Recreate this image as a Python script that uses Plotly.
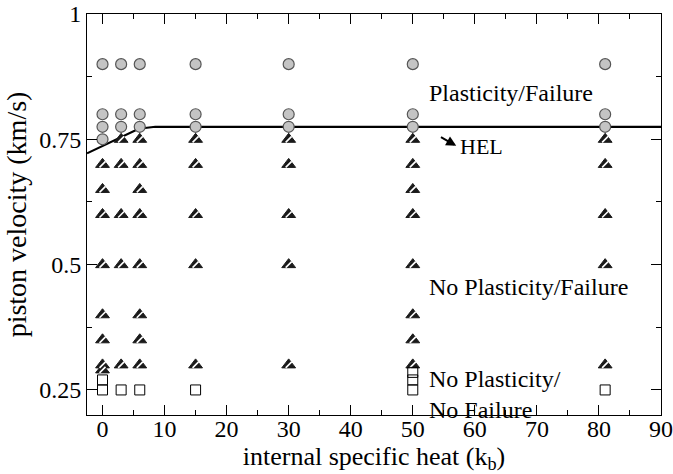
import plotly.graph_objects as go

# Plasticity/Failure points (circles)
circ_x = [0, 0, 0, 0, 3, 3, 3, 6, 6, 6, 15, 15, 15, 30, 30, 30, 50, 50, 50, 81, 81, 81]
circ_y = [0.9, 0.8, 0.775, 0.75, 0.9, 0.8, 0.775, 0.9, 0.8, 0.775, 0.9, 0.8, 0.775,
          0.9, 0.8, 0.775, 0.9, 0.8, 0.775, 0.9, 0.8, 0.775]

# No Plasticity/Failure points (triangles)
tri_x = [0] * 8 + [3] * 5 + [6] * 8 + [15] * 5 + [30] * 5 + [50] * 8 + [81] * 5
tri_y = ([0.7, 0.65, 0.6, 0.5, 0.4, 0.35, 0.3, 0.29] +
         [0.75, 0.7, 0.6, 0.5, 0.3] +
         [0.75, 0.7, 0.65, 0.6, 0.5, 0.4, 0.35, 0.3] +
         [0.75, 0.7, 0.6, 0.5, 0.3] +
         [0.75, 0.7, 0.6, 0.5, 0.3] +
         [0.75, 0.7, 0.65, 0.6, 0.5, 0.4, 0.35, 0.3] +
         [0.75, 0.7, 0.6, 0.5, 0.3])

# No Plasticity / No Failure points (squares)
sq_x = [0, 0, 3, 6, 15, 50, 50, 50, 81]
sq_y = [0.27, 0.25, 0.25, 0.25, 0.25, 0.285, 0.27, 0.25, 0.25]

# HEL curve
hel_x = [-2.5, -1.5, -0.5, 0.5, 1.5, 2.5, 3.5, 4.5, 5.5, 6.5, 7.5, 8.5, 90]
hel_y = [0.722, 0.728, 0.734, 0.740, 0.746, 0.752, 0.758, 0.764, 0.769, 0.772, 0.774, 0.775, 0.775]

x_ticks = [0, 10, 20, 30, 40, 50, 60, 70, 80, 90]
y_ticks = [0.25, 0.5, 0.75, 1.0]
y_ticktext = ["0.25", "0.5", "0.75", "1"]

FONT = "Liberation Serif"

fig = go.Figure()
fig.add_trace(go.Scatter(x=hel_x, y=hel_y, mode="lines",
                         line=dict(color="black", width=2.2),
                         hoverinfo="skip", showlegend=False))
fig.add_trace(go.Scatter(x=circ_x, y=circ_y, mode="markers",
                         marker=dict(symbol="circle", size=11, color="#c4c4c4",
                                     line=dict(color="#555555", width=1.2)),
                         showlegend=False))
fig.add_trace(go.Scatter(x=tri_x, y=tri_y, mode="markers",
                         marker=dict(symbol="triangle-up", size=12, color="#1a1a1a",
                                     line=dict(color="#1a1a1a", width=1)),
                         showlegend=False))
fig.add_trace(go.Scatter(x=tri_x, y=tri_y, mode="markers",
                         marker=dict(symbol="line-ne", size=6,
                                     line=dict(color="white", width=1.6)),
                         hoverinfo="skip", showlegend=False))
fig.add_trace(go.Scatter(x=sq_x, y=sq_y, mode="markers",
                         marker=dict(symbol="square-open", size=10, color="black",
                                     line=dict(color="black", width=1)),
                         showlegend=False))

ann_font = dict(family=FONT, size=24, color="black")
fig.add_annotation(x=52.3, y=0.842, text="Plasticity/Failure", showarrow=False,
                   xanchor="left", yanchor="middle", font=ann_font)
fig.add_annotation(x=52.3, y=0.456, text="No Plasticity/Failure", showarrow=False,
                   xanchor="left", yanchor="middle", font=ann_font)
fig.add_annotation(x=52.3, y=0.240, text="No Plasticity/<br>No Failure", showarrow=False,
                   xanchor="left", yanchor="middle", align="left", font=ann_font)
fig.add_annotation(x=57.3, y=0.736, text="HEL", showarrow=False,
                   xanchor="left", yanchor="middle", font=dict(family=FONT, size=22, color="black"))
fig.add_annotation(x=57.0, y=0.737, ax=54.3, ay=0.756, axref="x", ayref="y",
                   text="", showarrow=True, arrowhead=2, arrowsize=1,
                   arrowwidth=2, arrowcolor="black")

fig.update_xaxes(range=[-2.5, 90], tickvals=x_ticks, ticks="inside", ticklen=10,
                 tickwidth=1, tickcolor="black", showline=True, linecolor="black",
                 linewidth=1, mirror="ticks", showgrid=False, zeroline=False,
                 automargin=False, ticklabelstandoff=-8,
                 tickfont=dict(family=FONT, size=24, color="black"),
                 minor=dict(ticks="inside", ticklen=5, dtick=5, tickcolor="black", showgrid=False),
                 title=dict(text="internal specific heat (k<sub>b</sub>)",
                            font=dict(family=FONT, size=26, color="black"), standoff=0))
fig.update_yaxes(range=[0.2, 1.0], tickvals=y_ticks, ticktext=y_ticktext, ticks="inside",
                 ticklen=10, tickwidth=1, tickcolor="black", showline=True,
                 linecolor="black", linewidth=1, mirror="ticks", showgrid=False,
                 zeroline=False, automargin=False,
                 tickfont=dict(family=FONT, size=24, color="black"),
                 minor=dict(ticks="inside", ticklen=5, tickvals=[0.375, 0.625, 0.875],
                            tickcolor="black", showgrid=False),
                 title=dict(text="piston velocity (km/s)",
                            font=dict(family=FONT, size=28, color="black"), standoff=4))

fig.update_layout(width=673, height=474, margin=dict(l=87, r=12, t=14, b=59),
                  plot_bgcolor="white", paper_bgcolor="white")

fig.write_html("out.html")
